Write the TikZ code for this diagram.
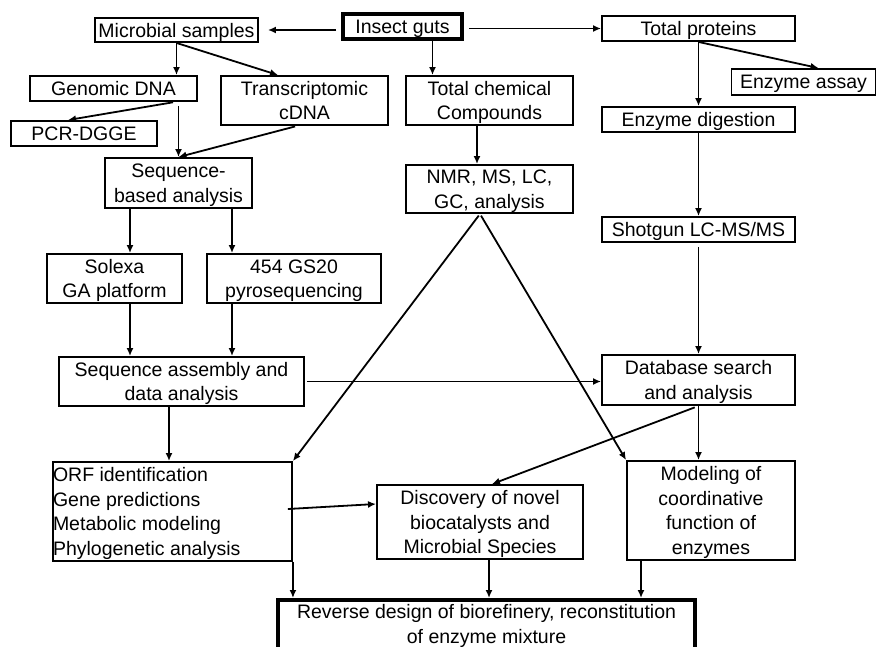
\documentclass[tikz,border=0pt]{standalone}
\usepackage{fontspec}
\setmainfont{Liberation Sans}
\usetikzlibrary{arrows.meta}
\tikzset{
  box/.style={draw, line width=1.9pt, inner sep=0pt, align=center, text depth=-1pt,
    font=\fontsize{19.5}{24.5}\selectfont},
  thickbox/.style={box, line width=4pt},
  arr/.style={line width=1.8pt, -{Latex[length=8pt,width=7pt]}},
  ln/.style={line width=1.8pt}
}
\begin{document}
\begin{tikzpicture}[x=1pt,y=-1pt]
\useasboundingbox (0,0) rectangle (877,647);
% nodes
\node[thickbox, minimum width=119, minimum height=25] (insect) at (402.5,27) {Insect guts};
\node[box, minimum width=163, minimum height=24] (micro) at (176.5,30) {Microbial samples};
\node[box, minimum width=193, minimum height=25] (totprot) at (698.5,28.5) {Total proteins};
\node[box, minimum width=167, minimum height=25] (gdna) at (113.5,88.5) {Genomic DNA};
\node[box, minimum width=167, minimum height=49] (tcdna) at (304.5,100.5) {Transcriptomic\\cDNA};
\node[box, minimum width=146, minimum height=25] (pcr) at (84,133.5) {PCR-DGGE};
\node[box, minimum width=147, minimum height=50] (seqba) at (178.5,183) {Sequence-\\based analysis};
\node[box, minimum width=167, minimum height=49] (tcc) at (489.5,100.5) {Total chemical\\Compounds};
\node[box, minimum width=167, minimum height=48] (nmr) at (489.5,189) {NMR, MS, LC,\\GC, analysis};
\node[box, minimum width=144, minimum height=26] (assay) at (803.5,82) {Enzyme assay};
\node[box, minimum width=193, minimum height=25] (digest) at (698.5,119.5) {Enzyme digestion};
\node[box, minimum width=193, minimum height=25] (shotgun) at (698.5,229.5) {Shotgun LC-MS/MS};
\node[box, minimum width=135, minimum height=49] (solexa) at (114.5,278.5) {Solexa\\GA platform};
\node[box, minimum width=174, minimum height=49] (gs) at (294,278.5) {454 GS20\\pyrosequencing};
\node[box, minimum width=245, minimum height=49] (seqasm) at (181.5,381.5) {Sequence assembly and\\data analysis};
\node[box, minimum width=193, minimum height=50] (db) at (698.5,380) {Database search\\and analysis};
\node[box, align=left, minimum width=239, minimum height=99] (orf) at (172.5,511.5) {\makebox[239pt][l]{ORF identification}\\Gene predictions\\Metabolic modeling\\Phylogenetic analysis};
\node[box, minimum width=206, minimum height=74] (disc) at (480,522) {Discovery of novel\\biocatalysts and\\Microbial Species};
\node[box, minimum width=168, minimum height=99] (model) at (711,510.5) {Modeling of\\coordinative\\function of\\enzymes};
\node[thickbox, text depth={}, minimum width=417, minimum height=52] (rev) at (486.5,626) {Reverse design of biorefinery, reconstitution\\of enzyme mixture};
% connectors
\draw[arr, shorten <=5pt, shorten >=9pt] (insect.west |- micro) -- (micro.east);
\draw[arr, shorten <=5pt] (insect.east |- totprot) -- (totprot.west);
\draw[arr] (micro.south) -- (micro.south |- gdna.north);
\draw[arr] (micro.south) -- ([xshift=-26.5]tcdna.north);
\draw[arr] ([xshift=30]insect.south) -- ([xshift=30]insect.south |- tcc.north);
\draw[arr] (totprot.south) -- ([xshift=15]assay.north);
\draw[arr] (totprot.south) -- (digest.north);
\draw[arr] (digest.south) -- (shotgun.north);
\draw[arr, shorten <=4pt] (shotgun.south) -- (db.north);
\draw[arr, shorten <=2pt] ([xshift=61.5]gdna.south) -- ([xshift=-16]pcr.north);
\draw[arr, shorten <=4pt] (seqba.north |- gdna.south) -- (seqba.north);
\draw[arr, shorten <=2pt] ([xshift=-7.5]tcdna.south) -- (seqba.north);
\draw[arr] ([xshift=-12.5]tcc.south) -- ([xshift=-12.5]nmr.north);
\draw[arr] ([xshift=-48.5]seqba.south) -- ([xshift=15.5]solexa.north);
\draw[arr] ([xshift=53.5]seqba.south) -- ([xshift=-62]gs.north);
\draw[arr] ([xshift=15.5]solexa.south) -- ([xshift=15.5]solexa.south |- seqasm.north);
\draw[arr] ([xshift=-62]gs.south) -- ([xshift=-62]gs.south |- seqasm.north);
\draw[arr, shorten <=2pt] (seqasm.east) -- (seqasm.east -| db.west);
\draw[arr] ([xshift=-12.5]seqasm.south) -- ([xshift=-12.5]seqasm.south |- orf.north);
\draw[arr, shorten <=2pt] ([xshift=-9.5]nmr.south) -- (orf.north east);
\draw[arr, shorten <=2pt] ([xshift=-9.5]nmr.south) -- (model.north west);
\draw[arr] (db.south) -- (db.south |- model.north);
\draw[arr, shorten <=4pt] (db.south) -- ([xshift=12]disc.north);
\draw[arr] ([xshift=-5,yshift=2.5]orf.east) -- ([yshift=18]disc.west);
\draw[arr] (orf.south east) -- (orf.south east |- rev.north);
\draw[arr] ([xshift=9]disc.south) -- ([xshift=9]disc.south |- rev.north);
\draw[arr] ([xshift=-70]model.south) -- ([xshift=-70]model.south |- rev.north);
\end{tikzpicture}
\end{document}
